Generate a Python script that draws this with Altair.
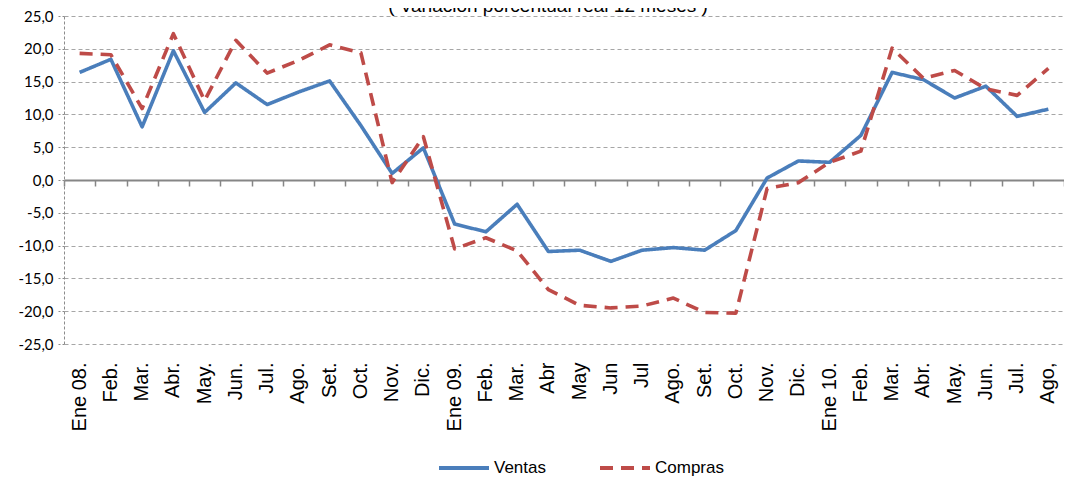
import altair as alt
import pandas as pd

labels = ["Ene  08.", "Feb.", "Mar.", "Abr.", "May.", "Jun.", "Jul.", "Ago.", "Set.", "Oct.", "Nov.", "Dic.",
          "Ene  09.", "Feb.", "Mar.", "Abr", "May", "Jun", "Jul", "Ago.", "Set.", "Oct.", "Nov.", "Dic.",
          "Ene  10.", "Feb.", "Mar.", "Abr.", "May.", "Jun.", "Jul.", "Ago,"]

ventas = [16.4, 18.4, 8.1, 19.7, 10.3, 14.8, 11.5, 13.4, 15.1, 8.3, 1.0, 4.9,
          -6.7, -7.9, -3.7, -10.9, -10.7, -12.4, -10.7, -10.3, -10.7, -7.7, 0.3, 2.9,
          2.7, 6.8, 16.4, 15.3, 12.5, 14.3, 9.7, 10.8]

compras = [19.3, 19.1, 10.9, 22.3, 12.1, 21.3, 16.3, 18.2, 20.6, 19.4, -0.4, 6.6,
           -10.5, -8.8, -10.8, -16.7, -19.1, -19.5, -19.2, -18.0, -20.2, -20.3, -1.3, -0.4,
           2.7, 4.4, 20.1, 15.5, 16.7, 13.9, 12.9, 17.0]

series_names = ["Ventas", "Compras"]
series_colors = ["#4a7ebb", "#be4b48"]
title_text = ["( Variación porcentual real 12 meses )"]
y_ticks = [-25, -20, -15, -10, -5, 0, 5, 10, 15, 20, 25]

rows = []
for i in range(len(labels)):
    rows.append({"idx": i, "serie": "Ventas", "valor": ventas[i]})
    rows.append({"idx": i, "serie": "Compras", "valor": compras[i]})
df = pd.DataFrame(rows)

label_expr = "[" + ",".join("'" + l + "'" for l in labels) + "][datum.value]"

xscale = alt.Scale(type="band", paddingInner=0, paddingOuter=0)
yscale = alt.Scale(domain=[-25, 25], nice=False, zero=False)

y_axis = alt.Axis(
    values=y_ticks,
    labelExpr="(datum.value < 0 ? '-' : '') + replace(format(abs(datum.value), '.1f'), '.', ',')",
    labelFont="Lato", labelFontSize=15, labelColor="#000000", labelPadding=5,
    labelOverlap=False, labelBound=False, labelFlush=False,
    domain=True, domainColor="#8c8c8c", domainDash=[3, 2], domainWidth=1,
    ticks=True, tickColor="#8c8c8c", tickDash=[2, 2], tickSize=6,
    grid=True, gridColor="#a6a6a6", gridDash=[4, 3], gridWidth=1,
    title=None,
)

lines = alt.Chart(df).mark_line(strokeWidth=3.6, strokeCap="butt", strokeJoin="round").encode(
    x=alt.X("idx:O", scale=xscale,
            axis=alt.Axis(orient="bottom", offset=-164, labels=False, title=None,
                          domain=True, domainColor="#868686", domainWidth=2,
                          ticks=True, tickBand="extent", tickSize=6, tickColor="#868686",
                          tickWidth=1.5, grid=False)),
    y=alt.Y("valor:Q", scale=yscale, axis=y_axis),
    color=alt.Color("serie:N", scale=alt.Scale(domain=series_names, range=series_colors),
                    legend=alt.Legend(orient="none", legendX=373, legendY=425, direction="horizontal",
                                      title=None, symbolType="stroke", symbolSize=2500,
                                      symbolStrokeWidth=4, labelFont="Liberation Sans",
                                      labelFontSize=17, labelColor="#000000", labelOffset=3,
                                      columnPadding=46, labelLimit=200)),
    strokeDash=alt.StrokeDash("serie:N", scale=alt.Scale(domain=series_names, range=[[1, 0], [13, 8]]),
                              legend=None),
    detail="serie:N",
)

labels_layer = alt.Chart(df).mark_point(opacity=0).encode(
    x=alt.X("idx:O", scale=xscale,
            axis=alt.Axis(orient="bottom", labelExpr=label_expr, labelAngle=270, labelPadding=18,
                          labelFont="Liberation Sans", labelFontSize=20, labelColor="#000000",
                          domain=False, ticks=False, grid=False, title=None, labelLimit=200)),
)

title_layer = alt.Chart(pd.DataFrame({"t": title_text})).mark_text(
    font="Liberation Sans", fontSize=19, color="#000000", align="center", baseline="alphabetic"
).encode(text="t:N", x=alt.value(484), y=alt.value(-4))

chart = alt.layer(lines, labels_layer, title_layer).resolve_axis(x="independent").properties(
    width=1000, height=328,
    autosize=alt.AutoSizeParams(type="none"),
    padding={"left": 56, "top": 8, "right": 0, "bottom": 133},
).configure_view(stroke=None)

chart.save("out.html", embed_options={"renderer": "svg", "actions": False})
